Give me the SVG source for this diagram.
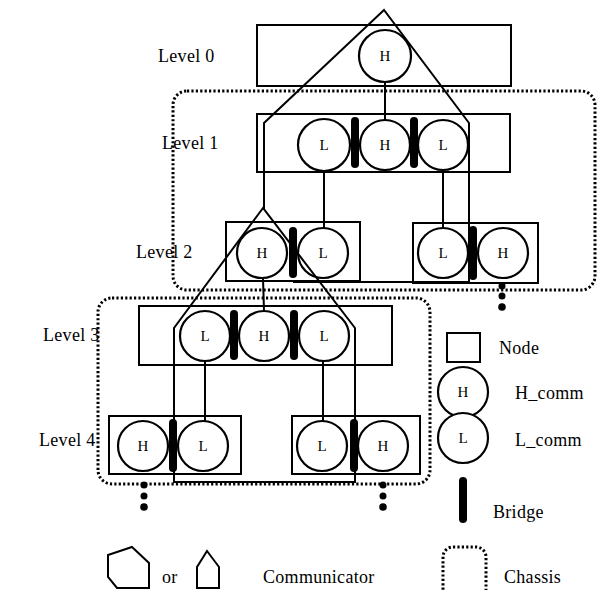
<svg xmlns="http://www.w3.org/2000/svg" width="600" height="590" viewBox="0 0 600 590">
  <style>
    .box { fill: none; stroke: #000; stroke-width: 2; }
    .comm { fill: #fff; stroke: #000; stroke-width: 2.2; }
    .bridge { fill: #000; stroke: none; }
    .link { fill: none; stroke: #000; stroke-width: 2; }
    .shape { fill: none; stroke: #000; stroke-width: 2; stroke-linejoin: miter; }
    .chassis { fill: none; stroke: #000; stroke-width: 3; stroke-dasharray: 2.2 2.2; }
    .dot { fill: #000; }
    .lbl { font-family: "Liberation Serif", "DejaVu Serif", serif; font-size: 18px; letter-spacing: 0.3px; fill: #000; }
    .cl { font-family: "Liberation Serif", "DejaVu Serif", serif; font-size: 15px; fill: #000; text-anchor: middle; }
  </style>

  <!-- chassis outlines -->
  <g id="chassis">
    <rect class="chassis" x="173" y="91" width="422" height="199" rx="14"/>
    <rect class="chassis" x="98" y="298" width="332" height="186" rx="14"/>
    <circle class="dot" cx="502" cy="286" r="3.5"/>
    <circle class="dot" cx="502" cy="296" r="3.5"/>
    <circle class="dot" cx="502" cy="307" r="3.8"/>
    <circle class="dot" cx="144" cy="485" r="3.5"/>
    <circle class="dot" cx="144" cy="496" r="3.5"/>
    <circle class="dot" cx="144" cy="507" r="3.8"/>
    <circle class="dot" cx="383" cy="485" r="3.5"/>
    <circle class="dot" cx="383" cy="496" r="3.5"/>
    <circle class="dot" cx="383" cy="507" r="3.8"/>
  </g>

  <!-- level labels -->
  <g id="levels">
    <text class="lbl" x="158" y="62">Level 0</text>
    <text class="lbl" x="162" y="149">Level 1</text>
    <text class="lbl" x="136" y="258">Level 2</text>
    <text class="lbl" x="43" y="341">Level 3</text>
    <text class="lbl" x="39" y="446">Level 4</text>
  </g>

  <!-- connectors -->
  <g id="connectors">
    <line class="link" x1="385" y1="82" x2="385" y2="120"/>
    <line class="link" x1="324" y1="170" x2="324" y2="228"/>
    <line class="link" x1="443" y1="170" x2="443" y2="228"/>
    <line class="link" x1="263" y1="278" x2="264" y2="311"/>
    <line class="link" x1="205" y1="361" x2="205" y2="421"/>
    <line class="link" x1="323" y1="361" x2="323" y2="421"/>
  </g>

  <!-- node boxes -->
  <g id="node-l0"><rect class="box" x="257" y="25" width="254" height="61"/></g>
  <g id="node-l1"><rect class="box" x="257" y="114" width="253" height="58"/></g>
  <g id="node-l2a"><rect class="box" x="226" y="222" width="134" height="59"/></g>
  <g id="node-l2b"><rect class="box" x="413" y="223" width="125" height="60"/></g>
  <g id="node-l3"><rect class="box" x="139" y="306" width="253" height="59"/></g>
  <g id="node-l4a"><rect class="box" x="109" y="416" width="132" height="58"/></g>
  <g id="node-l4b"><rect class="box" x="292" y="416" width="128" height="58"/></g>

  <!-- communicators -->
  <g id="comm-l0-h"><circle class="comm" cx="385" cy="56" r="26"/><text class="cl" x="385" y="61">H</text></g>

  <g id="comm-l1-l1"><circle class="comm" cx="324" cy="145" r="26"/><text class="cl" x="324" y="150">L</text></g>
  <g id="comm-l1-h"><circle class="comm" cx="385" cy="145" r="25"/><text class="cl" x="385" y="150">H</text></g>
  <g id="comm-l1-l2"><circle class="comm" cx="443" cy="145" r="25"/><text class="cl" x="443" y="150">L</text></g>

  <g id="comm-l2a-h"><circle class="comm" cx="262" cy="253" r="25"/><text class="cl" x="262" y="258">H</text></g>
  <g id="comm-l2a-l"><circle class="comm" cx="323" cy="253" r="25"/><text class="cl" x="323" y="258">L</text></g>
  <g id="comm-l2b-l"><circle class="comm" cx="443" cy="253" r="25"/><text class="cl" x="443" y="258">L</text></g>
  <g id="comm-l2b-h"><circle class="comm" cx="503" cy="253" r="25"/><text class="cl" x="503" y="258">H</text></g>

  <g id="comm-l3-l1"><circle class="comm" cx="205" cy="336" r="25"/><text class="cl" x="205" y="341">L</text></g>
  <g id="comm-l3-h"><circle class="comm" cx="264" cy="336" r="25"/><text class="cl" x="264" y="341">H</text></g>
  <g id="comm-l3-l2"><circle class="comm" cx="324" cy="336" r="25"/><text class="cl" x="324" y="341">L</text></g>

  <g id="comm-l4a-h"><circle class="comm" cx="143" cy="446" r="25"/><text class="cl" x="143" y="451">H</text></g>
  <g id="comm-l4a-l"><circle class="comm" cx="203" cy="446" r="25"/><text class="cl" x="203" y="451">L</text></g>
  <g id="comm-l4b-l"><circle class="comm" cx="322" cy="446" r="25"/><text class="cl" x="322" y="451">L</text></g>
  <g id="comm-l4b-h"><circle class="comm" cx="383" cy="446" r="25"/><text class="cl" x="383" y="451">H</text></g>

  <!-- bridges -->
  <g id="bridges">
    <rect class="bridge" x="351" y="117" width="8" height="51" rx="4"/>
    <rect class="bridge" x="410" y="117" width="8" height="51" rx="4"/>
    <rect class="bridge" x="289" y="227" width="8" height="51" rx="4"/>
    <rect class="bridge" x="469" y="226" width="8" height="54" rx="4"/>
    <rect class="bridge" x="230" y="310" width="8" height="50" rx="4"/>
    <rect class="bridge" x="290" y="310" width="8" height="50" rx="4"/>
    <rect class="bridge" x="169" y="419" width="8" height="53" rx="4"/>
    <rect class="bridge" x="350" y="419" width="8" height="53" rx="4"/>
  </g>

  <!-- communicator outlines -->
  <g id="comm-outline-upper">
    <path class="shape" d="M264,209 V123 L384,10 L469,123 V282 H293"/>
  </g>
  <g id="comm-outline-lower">
    <polygon class="shape" points="263,208 174,328 174,482 355,482 355,328"/>
  </g>

  <!-- legend -->
  <g id="legend-node">
    <rect class="box" x="447" y="333" width="33" height="29"/>
    <text class="lbl" x="499" y="354">Node</text>
  </g>
  <g id="legend-hcomm">
    <circle class="comm" cx="463" cy="392" r="25"/>
    <text class="cl" x="463" y="397">H</text>
    <text class="lbl" x="515" y="399">H_comm</text>
  </g>
  <g id="legend-lcomm">
    <circle class="comm" cx="463" cy="438" r="25"/>
    <text class="cl" x="463" y="443">L</text>
    <text class="lbl" x="515" y="446">L_comm</text>
  </g>
  <g id="legend-bridge">
    <rect class="bridge" x="459" y="477" width="8" height="46" rx="4"/>
    <text class="lbl" x="493" y="518">Bridge</text>
  </g>
  <g id="legend-communicator">
    <polygon class="shape" points="132,547 149,563 149,588 117,588 108,577 108,555"/>
    <text class="lbl" x="162" y="583">or</text>
    <polygon class="shape" points="207,551 219,567 219,588 197,588 197,567"/>
    <text class="lbl" x="263" y="583">Communicator</text>
  </g>
  <g id="legend-chassis">
    <rect class="chassis" x="443" y="547" width="43" height="56" rx="10"/>
    <text class="lbl" x="504" y="583">Chassis</text>
  </g>
</svg>
